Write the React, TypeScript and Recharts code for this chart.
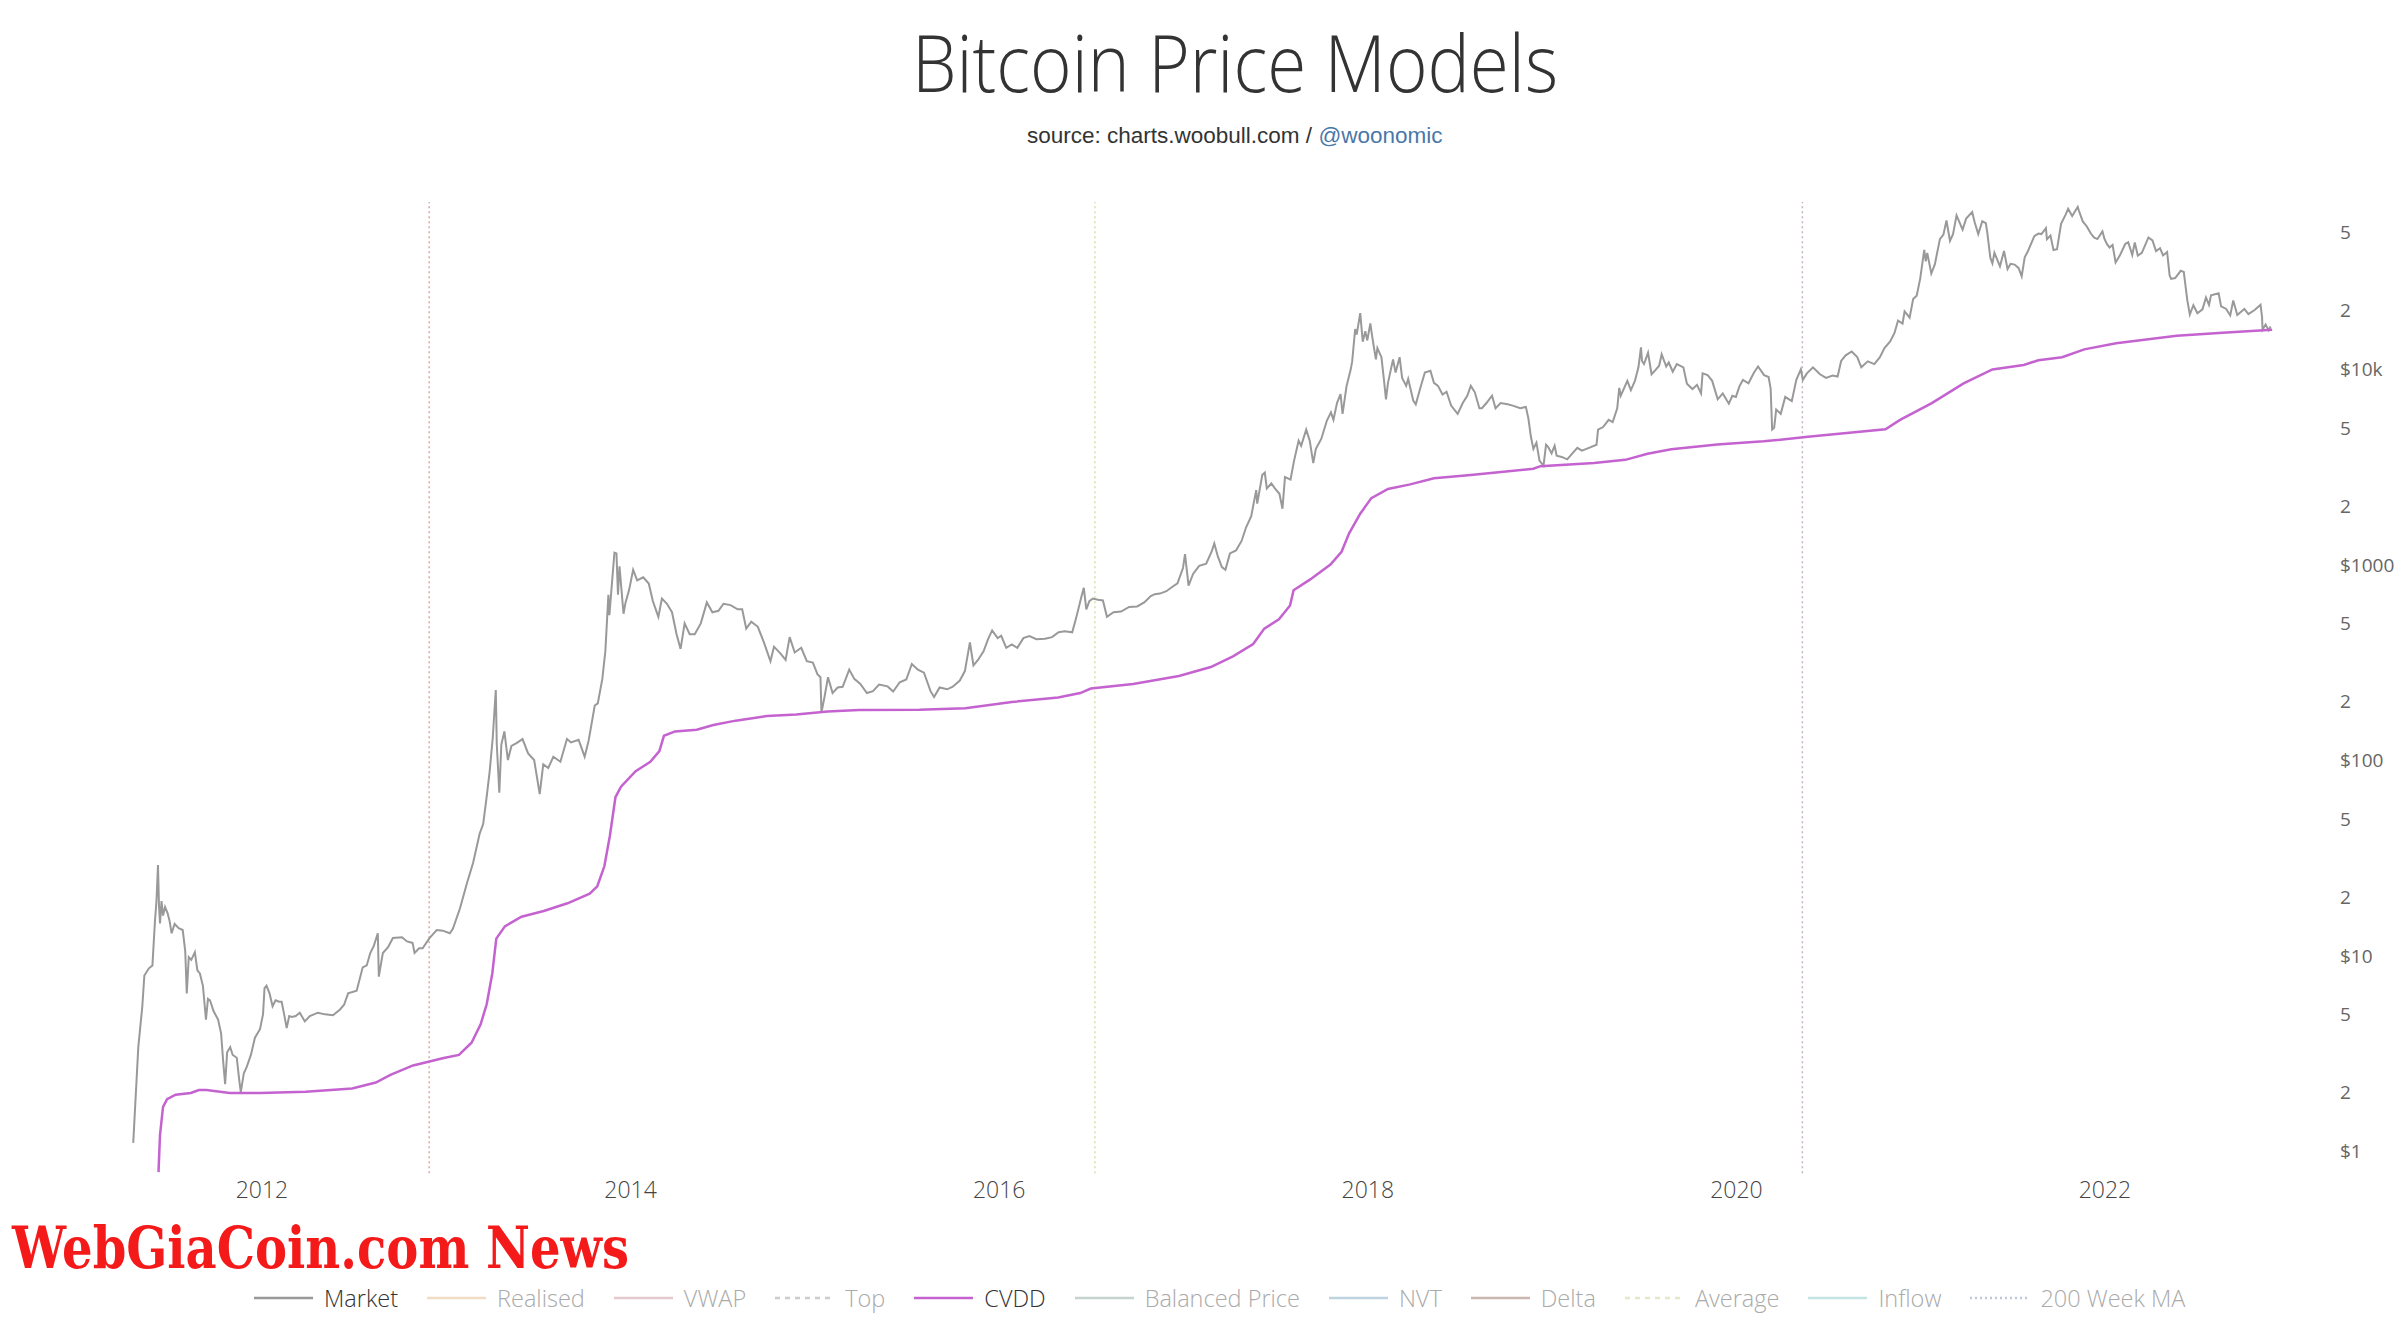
import React from 'react';
import { LineChart, Line, XAxis, YAxis, ReferenceLine } from 'recharts';

// market price (USD)
const market2011: [string, number][] = [
  ['2011-04-21', 1.1], ['2011-05-01', 3.4], ['2011-05-09', 5.5], ['2011-05-13', 7.9], ['2011-05-22', 8.6],
  ['2011-05-29', 8.9], ['2011-06-03', 15], ['2011-06-06', 19], ['2011-06-09', 29], ['2011-06-11', 18],
  ['2011-06-13', 14.6], ['2011-06-16', 19], ['2011-06-19', 16], ['2011-06-23', 17.7], ['2011-06-28', 16.5],
  ['2011-07-02', 15], ['2011-07-06', 13], ['2011-07-12', 14.5], ['2011-07-20', 13.8], ['2011-07-28', 13.5],
  ['2011-08-02', 10.5], ['2011-08-05', 6.4], ['2011-08-09', 9.8], ['2011-08-14', 9.5], ['2011-08-21', 10.4],
  ['2011-08-26', 8.4], ['2011-08-31', 8.1], ['2011-09-06', 7.0], ['2011-09-12', 4.7], ['2011-09-16', 6.0],
  ['2011-09-20', 5.9], ['2011-09-27', 5.2], ['2011-10-06', 4.7], ['2011-10-12', 4.0], ['2011-10-16', 2.9],
  ['2011-10-20', 2.2], ['2011-10-24', 3.2], ['2011-10-30', 3.4], ['2011-11-04', 3.1], ['2011-11-12', 3.0],
  ['2011-11-17', 2.3], ['2011-11-20', 2.0], ['2011-11-26', 2.5], ['2011-12-02', 2.7], ['2011-12-10', 3.1],
  ['2011-12-18', 3.8], ['2011-12-28', 4.2],
];
const market2012: [string, number][] = [
  ['2012-01-03', 5.0], ['2012-01-06', 6.8], ['2012-01-10', 7.0], ['2012-01-16', 6.4], ['2012-01-22', 5.5],
  ['2012-01-28', 5.9], ['2012-02-04', 5.8], ['2012-02-09', 5.8], ['2012-02-14', 5.0], ['2012-02-19', 4.25],
  ['2012-02-24', 4.9], ['2012-02-29', 4.85], ['2012-03-08', 4.9], ['2012-03-16', 5.1], ['2012-03-26', 4.6],
  ['2012-04-05', 4.9], ['2012-04-21', 5.1], ['2012-05-05', 5.0], ['2012-05-21', 4.95], ['2012-06-04', 5.3],
  ['2012-06-12', 5.6], ['2012-06-20', 6.4], ['2012-07-07', 6.6], ['2012-07-19', 8.7], ['2012-07-27', 8.9],
  ['2012-08-03', 10.3], ['2012-08-10', 11.2], ['2012-08-18', 13.0], ['2012-08-20', 7.8], ['2012-08-28', 10.3],
  ['2012-09-07', 11.0], ['2012-09-17', 12.3], ['2012-10-05', 12.4], ['2012-10-15', 11.8], ['2012-10-26', 11.6],
  ['2012-10-30', 10.3], ['2012-11-08', 10.9], ['2012-11-15', 10.9], ['2012-11-29', 12.3], ['2012-12-13', 13.5],
  ['2012-12-25', 13.4],
];
const market2013: [string, number][] = [
  ['2013-01-08', 13.0], ['2013-01-14', 13.7], ['2013-01-28', 17.4], ['2013-02-11', 23.5], ['2013-02-23', 29.7],
  ['2013-03-08', 42], ['2013-03-15', 47], ['2013-03-22', 65], ['2013-03-28', 88], ['2013-04-03', 130],
  ['2013-04-09', 228], ['2013-04-11', 120], ['2013-04-16', 68], ['2013-04-20', 120], ['2013-04-26', 140],
  ['2013-05-03', 100], ['2013-05-10', 118], ['2013-05-20', 122], ['2013-06-01', 128], ['2013-06-12', 108],
  ['2013-06-24', 100], ['2013-07-05', 67], ['2013-07-12', 95], ['2013-07-22', 91], ['2013-08-01', 104],
  ['2013-08-15', 98], ['2013-08-28', 128], ['2013-09-05', 123], ['2013-09-20', 127], ['2013-10-02', 104],
  ['2013-10-10', 126], ['2013-10-22', 190], ['2013-10-28', 195], ['2013-11-06', 260], ['2013-11-12', 360],
  ['2013-11-18', 700], ['2013-11-20', 550], ['2013-11-25', 800], ['2013-11-30', 1150], ['2013-12-04', 1140],
  ['2013-12-07', 700], ['2013-12-10', 980], ['2013-12-18', 560], ['2013-12-22', 640], ['2013-12-29', 740],
];
const market2014: [string, number][] = [
  ['2014-01-06', 940], ['2014-01-14', 830], ['2014-01-26', 860], ['2014-02-06', 800], ['2014-02-14', 650],
  ['2014-02-25', 540], ['2014-03-04', 670], ['2014-03-14', 630], ['2014-03-24', 570], ['2014-04-02', 440],
  ['2014-04-10', 370], ['2014-04-18', 500], ['2014-04-28', 440], ['2014-05-08', 440], ['2014-05-20', 500],
  ['2014-06-01', 640], ['2014-06-12', 570], ['2014-06-24', 580], ['2014-07-04', 630], ['2014-07-18', 620],
  ['2014-08-01', 590], ['2014-08-10', 590], ['2014-08-18', 470], ['2014-08-28', 510], ['2014-09-10', 480],
  ['2014-09-22', 400], ['2014-10-05', 320], ['2014-10-12', 380], ['2014-10-25', 350], ['2014-11-04', 325],
  ['2014-11-12', 425], ['2014-11-22', 355], ['2014-12-05', 375], ['2014-12-16', 320], ['2014-12-28', 315],
];
const market2015: [string, number][] = [
  ['2015-01-06', 275], ['2015-01-12', 265], ['2015-01-14', 175], ['2015-01-20', 210], ['2015-01-27', 265],
  ['2015-02-05', 220], ['2015-02-15', 235], ['2015-02-25', 237], ['2015-03-10', 290], ['2015-03-20', 260],
  ['2015-04-01', 245], ['2015-04-14', 220], ['2015-04-26', 225], ['2015-05-08', 243], ['2015-05-25', 238],
  ['2015-06-05', 224], ['2015-06-18', 250], ['2015-07-01', 258], ['2015-07-12', 310], ['2015-07-24', 290],
  ['2015-08-05', 280], ['2015-08-18', 225], ['2015-08-25', 210], ['2015-09-05', 235], ['2015-09-20', 230],
  ['2015-10-01', 237], ['2015-10-15', 255], ['2015-10-25', 285], ['2015-11-04', 400], ['2015-11-11', 305],
  ['2015-11-20', 325], ['2015-12-01', 360], ['2015-12-10', 415], ['2015-12-18', 460], ['2015-12-29', 420],
];
const market2016: [string, number][] = [
  ['2016-01-05', 432], ['2016-01-15', 375], ['2016-01-26', 390], ['2016-02-06', 375], ['2016-02-18', 420],
  ['2016-03-01', 430], ['2016-03-15', 415], ['2016-04-01', 417], ['2016-04-15', 425], ['2016-04-28', 450],
  ['2016-05-10', 455], ['2016-05-25', 450], ['2016-06-02', 535], ['2016-06-12', 680], ['2016-06-17', 760],
  ['2016-06-22', 590], ['2016-06-28', 650], ['2016-07-05', 670], ['2016-07-15', 660], ['2016-07-25', 655],
  ['2016-08-02', 540], ['2016-08-15', 570], ['2016-08-30', 575], ['2016-09-15', 607], ['2016-10-01', 610],
  ['2016-10-15', 640], ['2016-10-28', 690], ['2016-11-05', 705], ['2016-11-15', 710], ['2016-11-28', 730],
  ['2016-12-10', 770], ['2016-12-20', 800], ['2016-12-31', 960],
];
const market2017: [string, number][] = [
  ['2017-01-04', 1130], ['2017-01-11', 780], ['2017-01-20', 895], ['2017-02-01', 985], ['2017-02-15', 1010],
  ['2017-02-26', 1170], ['2017-03-03', 1280], ['2017-03-10', 1100], ['2017-03-18', 970], ['2017-03-25', 940],
  ['2017-04-03', 1140], ['2017-04-15', 1180], ['2017-04-26', 1320], ['2017-05-05', 1550], ['2017-05-15', 1760],
  ['2017-05-25', 2400], ['2017-05-27', 2050], ['2017-06-06', 2870], ['2017-06-11', 2950], ['2017-06-15', 2450],
  ['2017-06-24', 2600], ['2017-07-01', 2450], ['2017-07-10', 2300], ['2017-07-16', 1930], ['2017-07-21', 2800],
  ['2017-08-01', 2720], ['2017-08-08', 3400], ['2017-08-17', 4300], ['2017-08-22', 4050], ['2017-09-01', 4900],
  ['2017-09-08', 4300], ['2017-09-15', 3300], ['2017-09-20', 3900], ['2017-10-01', 4400], ['2017-10-12', 5450],
  ['2017-10-20', 6000], ['2017-10-25', 5500], ['2017-11-01', 6700], ['2017-11-08', 7450], ['2017-11-12', 5900],
  ['2017-11-20', 8200], ['2017-11-28', 9900], ['2017-12-01', 10900], ['2017-12-07', 16000], ['2017-12-10', 15000],
  ['2017-12-17', 19300], ['2017-12-22', 13800], ['2017-12-27', 15600], ['2017-12-31', 14000],
];
const market2018: [string, number][] = [
  ['2018-01-06', 17100], ['2018-01-10', 14500], ['2018-01-17', 11200], ['2018-01-20', 12800], ['2018-01-28', 11500],
  ['2018-02-02', 8800], ['2018-02-06', 7000], ['2018-02-10', 8500], ['2018-02-20', 11200], ['2018-02-25', 9600],
  ['2018-03-05', 11500], ['2018-03-10', 9000], ['2018-03-18', 8200], ['2018-03-22', 8900], ['2018-04-01', 6900],
  ['2018-04-06', 6600], ['2018-04-15', 8000], ['2018-04-24', 9600], ['2018-05-05', 9800], ['2018-05-12', 8500],
  ['2018-05-20', 8200], ['2018-05-29', 7400], ['2018-06-06', 7650], ['2018-06-15', 6500], ['2018-06-28', 5900],
  ['2018-07-08', 6700], ['2018-07-17', 7300], ['2018-07-24', 8200], ['2018-08-01', 7600], ['2018-08-10', 6300],
  ['2018-08-15', 6300], ['2018-08-24', 6700], ['2018-09-04', 7300], ['2018-09-11', 6300], ['2018-09-21', 6700],
  ['2018-10-05', 6600], ['2018-10-15', 6500], ['2018-10-30', 6300], ['2018-11-10', 6400], ['2018-11-15', 5600],
  ['2018-11-20', 4500], ['2018-11-25', 3900], ['2018-12-01', 4200], ['2018-12-07', 3400], ['2018-12-15', 3200],
  ['2018-12-20', 4100], ['2018-12-24', 4000], ['2018-12-31', 3700],
];
const market2019: [string, number][] = [
  ['2019-01-06', 4050], ['2019-01-10', 3600], ['2019-01-20', 3550], ['2019-01-31', 3450], ['2019-02-08', 3650],
  ['2019-02-20', 3950], ['2019-03-01', 3820], ['2019-03-15', 3950], ['2019-03-30', 4100], ['2019-04-02', 4900],
  ['2019-04-12', 5050], ['2019-04-23', 5500], ['2019-05-01', 5350], ['2019-05-10', 6300], ['2019-05-14', 8000],
  ['2019-05-17', 7300], ['2019-05-30', 8700], ['2019-06-06', 7800], ['2019-06-14', 8700], ['2019-06-21', 10200],
  ['2019-06-26', 12900], ['2019-06-28', 11000], ['2019-07-02', 10600], ['2019-07-10', 12100], ['2019-07-17', 9400],
  ['2019-07-25', 9900], ['2019-08-01', 10400], ['2019-08-06', 11900], ['2019-08-15', 10300], ['2019-08-20', 10800],
  ['2019-08-28', 9700], ['2019-09-05', 10600], ['2019-09-18', 10200], ['2019-09-25', 8400], ['2019-10-06', 7900],
  ['2019-10-15', 8300], ['2019-10-23', 7500], ['2019-10-26', 9500], ['2019-11-05', 9300], ['2019-11-14', 8700],
  ['2019-11-25', 7000], ['2019-12-05', 7500], ['2019-12-17', 6650], ['2019-12-24', 7300], ['2019-12-31', 7200],
];
const market2020: [string, number][] = [
  ['2020-01-07', 8150], ['2020-01-14', 8800], ['2020-01-25', 8450], ['2020-02-05', 9600], ['2020-02-13', 10300],
  ['2020-02-25', 9300], ['2020-03-05', 9100], ['2020-03-09', 7950], ['2020-03-12', 4900], ['2020-03-16', 5000],
  ['2020-03-20', 6200], ['2020-03-29', 5900], ['2020-04-07', 7200], ['2020-04-20', 6850], ['2020-04-29', 8800],
  ['2020-05-08', 9950], ['2020-05-12', 8800], ['2020-05-20', 9500], ['2020-06-01', 10200], ['2020-06-15', 9400],
  ['2020-06-27', 9000], ['2020-07-10', 9250], ['2020-07-20', 9150], ['2020-07-27', 11000], ['2020-08-05', 11750],
  ['2020-08-17', 12300], ['2020-08-28', 11500], ['2020-09-05', 10200], ['2020-09-18', 10950], ['2020-10-01', 10600],
  ['2020-10-12', 11500], ['2020-10-21', 12800], ['2020-11-01', 13800], ['2020-11-10', 15300], ['2020-11-17', 17700],
  ['2020-11-26', 17100], ['2020-11-30', 19700], ['2020-12-10', 18300], ['2020-12-17', 22800], ['2020-12-24', 23700],
  ['2020-12-31', 29000],
];
const market2021: [string, number][] = [
  ['2021-01-08', 40700], ['2021-01-11', 35500], ['2021-01-14', 39200], ['2021-01-22', 30800], ['2021-01-29', 34300],
  ['2021-02-08', 46200], ['2021-02-15', 48700], ['2021-02-21', 57500], ['2021-02-28', 45200], ['2021-03-06', 48900],
  ['2021-03-13', 61100], ['2021-03-25', 51700], ['2021-04-01', 58800], ['2021-04-13', 63500], ['2021-04-18', 56200],
  ['2021-04-25', 49000], ['2021-05-03', 57000], ['2021-05-10', 55800], ['2021-05-13', 49500], ['2021-05-19', 37000],
  ['2021-05-23', 34700], ['2021-05-27', 39300], ['2021-06-07', 33500], ['2021-06-15', 40200], ['2021-06-22', 32500],
  ['2021-06-28', 34500], ['2021-07-06', 34200], ['2021-07-14', 32800], ['2021-07-20', 29800], ['2021-07-26', 37300],
  ['2021-08-01', 39900], ['2021-08-14', 47800], ['2021-08-22', 49300], ['2021-08-28', 49000], ['2021-09-06', 52600],
  ['2021-09-08', 46100], ['2021-09-15', 48100], ['2021-09-21', 40600], ['2021-09-28', 41000], ['2021-10-06', 55300],
  ['2021-10-15', 61600], ['2021-10-20', 66000], ['2021-10-28', 60600], ['2021-11-08', 67500], ['2021-11-10', 64900],
  ['2021-11-18', 56900], ['2021-11-26', 53600], ['2021-12-04', 49300], ['2021-12-10', 47100], ['2021-12-17', 46200],
  ['2021-12-27', 50600], ['2021-12-31', 46300],
];
const market2022: [string, number][] = [
  ['2022-01-05', 43500], ['2022-01-10', 41800], ['2022-01-16', 43100], ['2022-01-22', 35100], ['2022-01-30', 37900],
  ['2022-02-10', 43600], ['2022-02-16', 44500], ['2022-02-24', 38300], ['2022-03-01', 44400], ['2022-03-07', 38000],
  ['2022-03-15', 39300], ['2022-03-28', 47100], ['2022-04-05', 45500], ['2022-04-12', 40100], ['2022-04-20', 41500],
  ['2022-04-26', 38100], ['2022-05-04', 39700], ['2022-05-09', 30100], ['2022-05-12', 28900], ['2022-05-20', 29200],
  ['2022-05-31', 31800], ['2022-06-06', 31400], ['2022-06-13', 22500], ['2022-06-18', 19000], ['2022-06-25', 21200],
  ['2022-07-03', 19300], ['2022-07-13', 20200], ['2022-07-20', 23200], ['2022-07-26', 21300], ['2022-07-30', 23800],
  ['2022-08-14', 24400], ['2022-08-19', 20900], ['2022-08-29', 20300], ['2022-09-06', 18800], ['2022-09-12', 22400],
  ['2022-09-20', 18900], ['2022-10-04', 20300], ['2022-10-12', 19100], ['2022-10-25', 20100], ['2022-11-05', 21300],
  ['2022-11-08', 18500], ['2022-11-09', 15900], ['2022-11-15', 16900], ['2022-11-21', 15800], ['2022-11-25', 16500],
];

// CVDD model (USD)
const cvdd: [string, number][] = [
  ['2011-06-10', 0.78], ['2011-06-13', 1.21], ['2011-06-19', 1.68], ['2011-06-27', 1.84], ['2011-07-14', 1.94],
  ['2011-08-13', 1.98], ['2011-08-29', 2.05], ['2011-09-13', 2.05], ['2011-10-29', 1.98], ['2011-12-28', 1.98],
  ['2012-03-28', 2.01], ['2012-06-28', 2.09], ['2012-08-14', 2.24], ['2012-09-12', 2.45], ['2012-10-27', 2.74],
  ['2012-12-27', 2.99], ['2013-01-26', 3.1], ['2013-02-20', 3.58], ['2013-03-10', 4.45], ['2013-03-22', 5.63],
  ['2013-04-02', 8.07], ['2013-04-10', 12.2], ['2013-04-27', 14.1], ['2013-05-30', 15.8], ['2013-07-13', 16.9],
  ['2013-08-29', 18.5], ['2013-10-12', 20.7], ['2013-10-27', 22.6], ['2013-11-10', 28.6], ['2013-11-21', 41],
  ['2013-12-02', 64.5], ['2013-12-13', 73], ['2014-01-11', 87.6], ['2014-02-09', 97.8], ['2014-02-27', 111],
  ['2014-03-08', 133], ['2014-03-30', 140], ['2014-05-12', 143], ['2014-06-14', 151], ['2014-07-28', 159],
  ['2014-09-28', 168], ['2014-11-25', 171], ['2015-01-26', 177], ['2015-03-29', 180], ['2015-07-27', 181],
  ['2015-10-26', 184], ['2016-01-26', 198], ['2016-04-27', 209], ['2016-06-10', 220], ['2016-07-01', 232],
  ['2016-09-23', 245], ['2016-12-23', 269], ['2017-02-24', 299], ['2017-04-09', 339], ['2017-05-19', 392],
  ['2017-06-10', 470], ['2017-07-09', 525], ['2017-07-31', 617], ['2017-08-07', 739], ['2017-09-09', 839],
  ['2017-10-19', 1000], ['2017-11-10', 1161], ['2017-11-25', 1443], ['2017-12-17', 1820], ['2018-01-08', 2186],
  ['2018-02-10', 2435], ['2018-03-26', 2570], ['2018-05-12', 2760], ['2018-07-24', 2866], ['2018-11-25', 3090],
  ['2018-12-09', 3185], ['2019-03-25', 3310], ['2019-05-26', 3430], ['2019-07-09', 3685], ['2019-08-25', 3890],
  ['2019-11-24', 4110], ['2020-02-24', 4265], ['2020-05-22', 4500], ['2020-10-23', 4920], ['2020-11-21', 5490],
  ['2021-01-23', 6690], ['2021-03-27', 8450], ['2021-05-23', 9950], ['2021-07-24', 10480], ['2021-08-22', 11090],
  ['2021-10-08', 11490], ['2021-11-21', 12600], ['2022-01-23', 13530], ['2022-05-23', 14800], ['2022-08-22', 15350],
  ['2022-11-28', 15900],
];

const halvings = ['2012-11-28', '2016-07-09', '2020-05-11'];
const halvingColors = ['#e3a3a3', '#dcdca8', '#c6b3c6'];

const yearTicks = [2012, 2014, 2016, 2018, 2020, 2022];
const priceTicks = [1, 2, 5, 10, 20, 50, 100, 200, 500, 1000, 2000, 5000, 10000, 20000, 50000];
const priceLabels: Record<number, string> = { 1: '$1', 10: '$10', 100: '$100', 1000: '$1000', 10000: '$10k' };

const legendItems = [
  { name: 'Market', color: '#999999', dash: '', on: true },
  { name: 'Realised', color: '#f2dcc6', dash: '', on: false },
  { name: 'VWAP', color: '#e5c9cf', dash: '', on: false },
  { name: 'Top', color: '#cccccc', dash: '5 5', on: false },
  { name: 'CVDD', color: '#c462d0', dash: '', on: true },
  { name: 'Balanced Price', color: '#c6d4cf', dash: '', on: false },
  { name: 'NVT', color: '#bfd3e0', dash: '', on: false },
  { name: 'Delta', color: '#cbb7b1', dash: '', on: false },
  { name: 'Average', color: '#e5e8c6', dash: '5 5', on: false },
  { name: 'Inflow', color: '#c4e4e3', dash: '', on: false },
  { name: '200 Week MA', color: '#bcc8d9', dash: '2 3', on: false },
];

const toYear = (s: string) => {
  const d = Date.parse(s + 'T00:00:00Z');
  const y = new Date(d).getUTCFullYear();
  const start = Date.UTC(y, 0, 1);
  const end = Date.UTC(y + 1, 0, 1);
  return y + (d - start) / (end - start);
};

const marketData = [
  ...market2011, ...market2012, ...market2013, ...market2014, ...market2015, ...market2016,
  ...market2017, ...market2018, ...market2019, ...market2020, ...market2021, ...market2022,
].map(([d, v]) => ({ t: toYear(d), v }));
const cvddData = cvdd.map(([d, v]) => ({ t: toYear(d), v }));

const YTick = (props: any) => {
  const v = props.payload.value as number;
  const label = priceLabels[v] ?? String(v).charAt(0);
  return (
    <text x={2340} y={props.y} dy={7} fontSize={19} fill="#666" fontFamily="'Open Sans', sans-serif">
      {label}
    </text>
  );
};

const XTick = (props: any) => (
  <text
    x={props.x}
    y={1198}
    textAnchor="middle"
    fontSize={23}
    fontWeight={300}
    fill="#444"
    fontFamily="'Open Sans', sans-serif"
  >
    {props.payload.value}
  </text>
);

const App: React.FC = () => {
  return (
    <div
      style={{
        position: 'absolute',
        left: 0,
        top: 0,
        width: 2404,
        height: 1342,
        background: '#fff',
        overflow: 'hidden',
      }}
    >
      <LineChart width={2404} height={1342} margin={{ top: 202, right: 0, bottom: 138.8, left: 77.7 }}>
        <XAxis
          dataKey="t"
          type="number"
          domain={[2011, 2023]}
          ticks={yearTicks}
          allowDataOverflow
          axisLine={false}
          tickLine={false}
          height={30}
          tick={XTick}
        />
        <YAxis
          type="number"
          orientation="right"
          scale="log"
          domain={[0.77, 71500]}
          ticks={priceTicks}
          allowDataOverflow
          axisLine={false}
          tickLine={false}
          width={114.7}
          tick={YTick}
        />
        {halvings.map((h, i) => (
          <ReferenceLine
            key={h}
            x={toYear(h)}
            stroke={halvingColors[i]}
            strokeWidth={1.5}
            strokeDasharray="2 3"
          />
        ))}
        <Line
          data={marketData}
          dataKey="v"
          type="linear"
          stroke="#999999"
          strokeWidth={2}
          dot={false}
          isAnimationActive={false}
        />
        <Line
          data={cvddData}
          dataKey="v"
          type="linear"
          stroke="#c462d0"
          strokeWidth={2.5}
          dot={false}
          isAnimationActive={false}
        />
      </LineChart>

      <svg
        width={2404}
        height={1342}
        style={{ position: 'absolute', left: 0, top: 0, pointerEvents: 'none' }}
      >
        <text
          x={912}
          y={92}
          fontSize={80}
          fontWeight={300}
          fill="#333"
          fontFamily="'Open Sans', sans-serif"
          textLength={646}
          lengthAdjust="spacingAndGlyphs"
        >
          Bitcoin Price Models
        </text>
        <text x={1027} y={143} fontSize={22.5} fill="#333" fontFamily="'Liberation Sans', Arial, sans-serif">
          source: charts.woobull.com / <tspan fill="#4a77a8">@woonomic</tspan>
        </text>
        <text
          x={12}
          y={1268}
          fontSize={57}
          fontWeight="bold"
          fill="#f41a1a"
          fontFamily="'DejaVu Serif', serif"
          textLength={617}
          lengthAdjust="spacingAndGlyphs"
        >
          WebGiaCoin.com News
        </text>
      </svg>

      <div
        style={{
          position: 'absolute',
          left: 254,
          top: 1289,
          height: 18,
          display: 'flex',
          alignItems: 'center',
          fontFamily: "'Open Sans', sans-serif",
          fontWeight: 300,
          fontSize: 23.5,
          lineHeight: '18px',
          whiteSpace: 'nowrap',
        }}
      >
        {legendItems.map((it) => (
          <div key={it.name} style={{ display: 'flex', alignItems: 'center', marginRight: 29 }}>
            <svg width={59} height={6} style={{ marginRight: 11 }}>
              <line
                x1={0}
                y1={3}
                x2={59}
                y2={3}
                stroke={it.color}
                strokeWidth={2.5}
                strokeDasharray={it.dash || undefined}
              />
            </svg>
            <span style={{ color: it.on ? '#333' : '#aaa', lineHeight: '18px' }}>{it.name}</span>
          </div>
        ))}
      </div>
    </div>
  );
};

export default App;
